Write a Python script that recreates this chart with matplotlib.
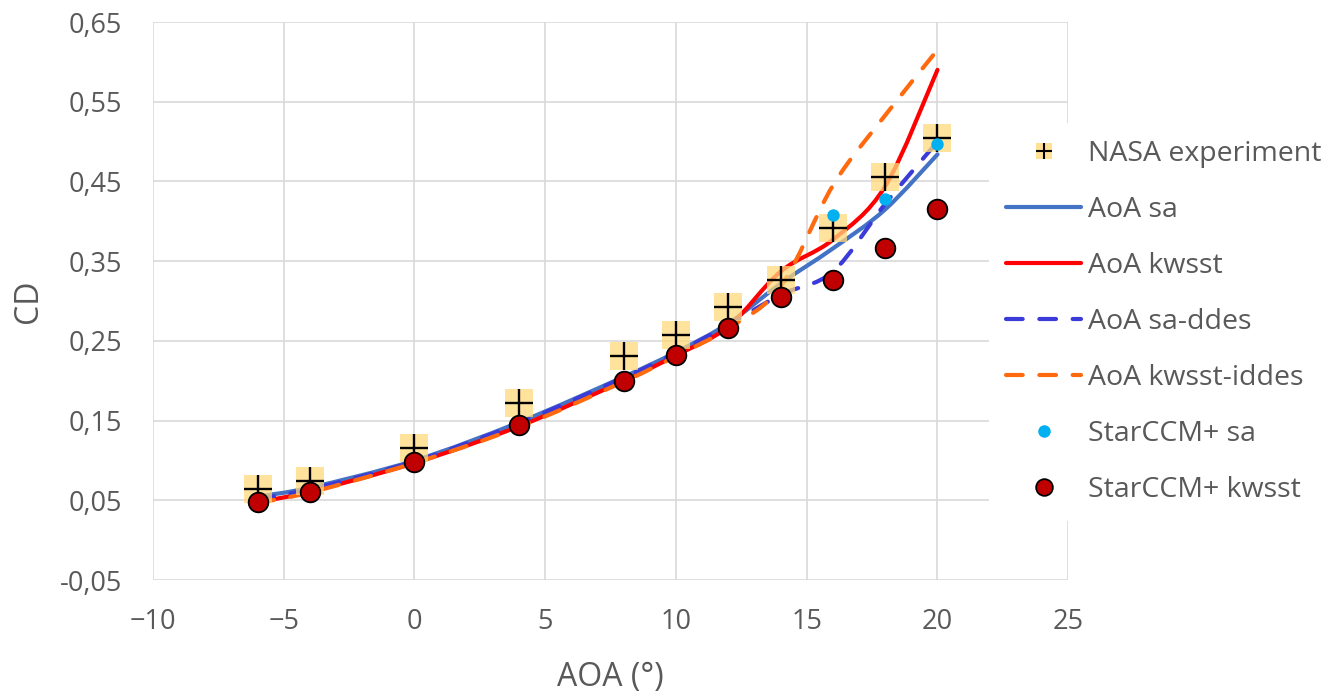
import numpy as np
import matplotlib.pyplot as plt
from matplotlib.path import Path
from matplotlib.patches import PathPatch
from matplotlib.lines import Line2D
from matplotlib.legend_handler import HandlerTuple

plt.rcParams['font.family'] = ['Open Sans', 'DejaVu Sans']

# data
aoa = [-6, -4, 0, 4, 8, 10, 12, 14, 16, 18, 20]
nasa = [0.064, 0.074, 0.116, 0.172, 0.231, 0.257, 0.293, 0.327, 0.392, 0.456, 0.504]
cd_sa = [0.055, 0.066, 0.100, 0.148, 0.205, 0.236, 0.272, 0.322, 0.366, 0.415, 0.484]
cd_kwsst = [0.048, 0.061, 0.097, 0.143, 0.200, 0.232, 0.268, 0.337, 0.377, 0.444, 0.590]
cd_sa_ddes = [0.052, 0.064, 0.099, 0.147, 0.204, 0.235, 0.270, 0.308, 0.337, 0.422, 0.500]
cd_kwsst_iddes = [0.047, 0.060, 0.097, 0.142, 0.199, 0.231, 0.266, 0.318, 0.445, 0.533, 0.615]
star_sa = [0.046, 0.058, 0.094, 0.139, 0.199, 0.231, 0.266, 0.305, 0.408, 0.428, 0.497]
star_kwsst = [0.048, 0.061, 0.098, 0.144, 0.200, 0.232, 0.266, 0.305, 0.326, 0.367, 0.416]

yticks = [-0.05, 0.05, 0.15, 0.25, 0.35, 0.45, 0.55, 0.65]
xticks = [-10, -5, 0, 5, 10, 15, 20, 25]

gray = '#595959'


def smooth_path(x, y):
    # excel style smoothed line: bezier through every point
    p = np.column_stack([x, y]).astype(float)
    n = len(p)
    verts = [p[0]]
    codes = [Path.MOVETO]
    for i in range(n - 1):
        prev = p[i - 1] if i > 0 else p[i]
        nxt = p[i + 2] if i + 2 < n else p[i + 1]
        c1 = p[i] + (p[i + 1] - prev) / 6
        c2 = p[i + 1] - (nxt - p[i]) / 6
        verts += [c1, c2, p[i + 1]]
        codes += [Path.CURVE4] * 3
    return Path(verts, codes)


fig = plt.figure(figsize=(13.42, 6.99), dpi=100)
ax = fig.add_axes([0.114, 0.170, 0.682, 0.7985])

series = [
    (cd_sa, '#4472C4', '-', 'AoA sa'),
    (cd_kwsst, '#FF0000', '-', 'AoA kwsst'),
    (cd_sa_ddes, '#3B3BD9', (0, (4, 4)), 'AoA sa-ddes'),
    (cd_kwsst_iddes, '#FF6A0F', (0, (4, 4)), 'AoA kwsst-iddes'),
]
line_handles = []
for vals, col, ls, lab in series:
    patch = PathPatch(smooth_path(aoa, vals), fill=False, edgecolor=col, lw=3,
                      linestyle=ls, capstyle='round', zorder=3)
    ax.add_patch(patch)
    line_handles.append(Line2D([], [], color=col, lw=3, linestyle=ls,
                               dash_capstyle='round', solid_capstyle='round'))

ax.scatter(aoa, nasa, marker='s', s=380, color='#FFD97A', alpha=0.75,
           linewidths=0, zorder=4)
ax.scatter(aoa, nasa, marker='+', s=380, color='black', linewidths=1.7, zorder=5)
ax.scatter(aoa, star_sa, marker='o', s=80, color='#00B0F0', linewidths=0, zorder=6)
ax.scatter(aoa, star_kwsst, marker='o', s=200, color='#C00000', edgecolor='black',
           linewidths=1.3, zorder=7)

ax.set_xlim(-10, 25)
ax.set_ylim(-0.05, 0.65)
ax.set_xticks(xticks)
ax.set_yticks(yticks)
ax.set_yticklabels([f'{v:.2f}'.replace('.', ',') for v in yticks])
ax.grid(True, color='#D9D9D9', lw=1.2)
ax.set_axisbelow(True)
for s in ax.spines.values():
    s.set_visible(False)
ax.tick_params(length=0, labelsize=19.5, colors=gray)
ax.tick_params(axis='y', pad=22)
ax.tick_params(axis='x', pad=20)
ax.set_xlabel('AOA (°)', fontsize=23, color=gray, labelpad=18)
ax.set_ylabel('CD', fontsize=23, color=gray, labelpad=11)

nasa_h = (Line2D([], [], marker='s', ls='none', markersize=11, color='#FFD97A',
                 alpha=0.8, markeredgewidth=0),
          Line2D([], [], marker='+', ls='none', markersize=11, color='black',
                 markeredgewidth=1.5))
sa_h = Line2D([], [], marker='o', ls='none', markersize=9, color='#00B0F0',
              markeredgewidth=0)
kw_h = Line2D([], [], marker='o', ls='none', markersize=12, markerfacecolor='#C00000',
              markeredgecolor='black', markeredgewidth=1.3)

handles = [nasa_h] + line_handles + [sa_h, kw_h]
labels = ['NASA experiment'] + [s[3] for s in series] + ['StarCCM+ sa', 'StarCCM+ kwsst']
leg = fig.legend(handles, labels, loc='upper left', bbox_to_anchor=(0.7265, 0.844),
                 handler_map={tuple: HandlerTuple(ndivide=1, pad=0)},
                 fontsize=20.5, frameon=True, facecolor='white', edgecolor='none',
                 framealpha=1, handlelength=2.63, handletextpad=0.25,
                 labelspacing=0.98, borderpad=0.6, fancybox=False)
for t in leg.get_texts():
    t.set_color(gray)

fig.savefig('out.png', dpi=100)
